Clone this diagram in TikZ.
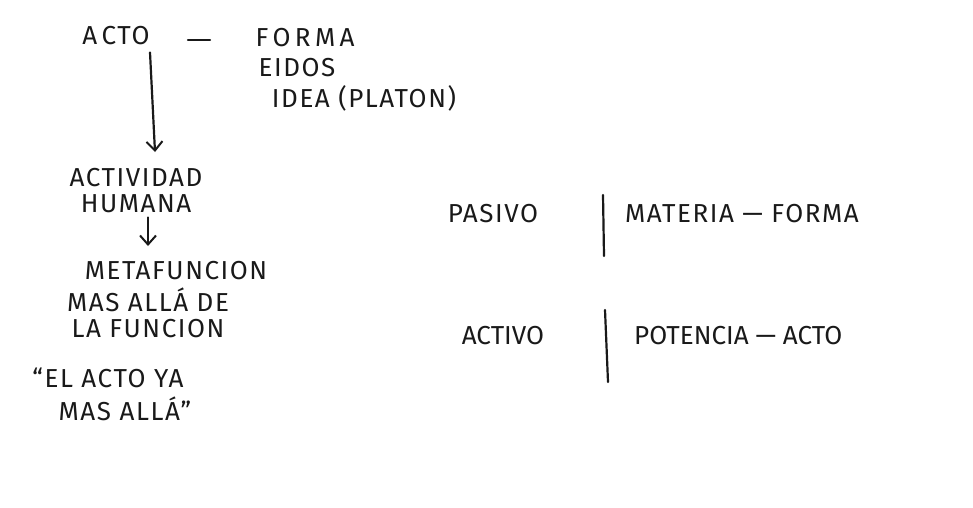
\documentclass[tikz,border=0pt]{standalone}
\usepackage{fontspec}
\setmainfont{Fira Sans}[LetterSpace=6]
\newfontfamily\tightfont{Fira Sans}
\usetikzlibrary{arrows.meta}
\begin{document}
\begin{tikzpicture}[x=1pt,y=-1pt,
  hw/.style={font=\fontsize{26}{30}\selectfont, inner sep=1pt, text=black!90, align=center},
  ln/.style={line width=2.2pt, line cap=round, black!90},
  arr/.style={ln, -{Straight Barb[length=9pt,width=16pt,line width=2pt]}}]
\useasboundingbox (0,0) rectangle (973,507);
% top row
\node[hw] (acto) at (116,36) {A\,CTO};
\node[hw] (forma) at (305,38) {F\,O\,R\,M\,A};
\node[hw] (eidos) at (297,68) {EIDOS};
\node[hw] (idea) at (364,98) {IDEA (PLATON)};
\draw[ln] (188,40) coordinate (d1) -- (210,40) coordinate (d2);
% left column
\node[hw] (activ) at (136,191) {ACTIVIDAD\\[-4pt]HUMANA};
\node[hw] (meta1) at (176,271) {METAFUNCION};
\node[hw] (meta2) at (148,300) {MAS ALLÁ DE};
\node[hw] (meta3) at (148,329) {LA FUNCION};
\node[hw] (el1) at (108,378) {“EL ACTO YA};
\node[hw] (el2) at (125,409) {MAS ALLÁ”};
\draw[arr] (acto.south -| 150,0) ++(0,6) -- (155,152);
\draw[arr] (activ.south -| 148,0) ++(0,3) -- (148,246);
% right block
\node[hw] (pasivo) at (493,214) {PASIVO};
\node[hw] (materia) at (742,214) {MATERIA — FORMA};
\node[hw] (activo) at (503,336) {\tightfont ACTIVO};
\node[hw, anchor=west] (potencia) at (633,336) {\tightfont POTENCIA — ACTO};
\coordinate (b1t) at (603,195); \coordinate (b1b) at (604,256);
\coordinate (b2t) at (605,310); \coordinate (b2b) at (608,382);
\draw[ln] (b1t) -- (b1b);
\draw[ln] (b2t) -- (b2b);
\end{tikzpicture}
\end{document}
